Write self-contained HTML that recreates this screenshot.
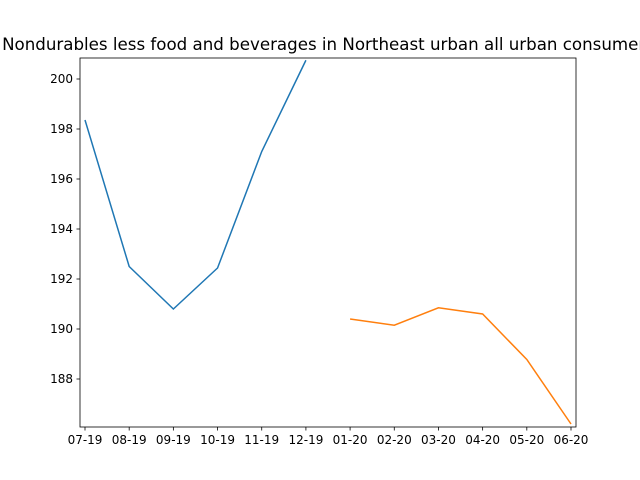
<!DOCTYPE html>
<html><head><meta charset="utf-8"><style>
body{margin:0;background:#fff;overflow:hidden;}
svg{display:block;font-family:"DejaVu Sans","Liberation Sans",sans-serif;}
</style></head><body>
<svg id="chart" width="640" height="480">
<rect width="640" height="480" fill="#fff"/>
<text x="328" y="50" text-anchor="middle" font-size="16.67">Nondurables less food and beverages in Northeast urban all urban consumers</text>
<g id="plot"></g>
</svg>
<script>
const categories=["07-19","08-19","09-19","10-19","11-19","12-19","01-20","02-20","03-20","04-20","05-20","06-20"];
const series2019=[198.36,192.5,190.8,192.44,197.1,200.75];
const series2020=[190.4,190.15,190.85,190.6,188.78,186.2];
const yTicks=[188,190,192,194,196,198,200];
const L=80,R=576,T=58,B=427,yMin=186.08,yMax=200.84;
const x=i=>85+i*(571-85)/(categories.length-1);
const y=v=>B-(v-yMin)/(yMax-yMin)*(B-T);
const g=document.getElementById('plot');const ns='http://www.w3.org/2000/svg';
function mk(t,a){const e=document.createElementNS(ns,t);for(const k in a)e.setAttribute(k,a[k]);g.appendChild(e);return e;}
const clip=mk('clipPath',{id:'c'});const cr=document.createElementNS(ns,'rect');
cr.setAttribute('x',L);cr.setAttribute('y',T);cr.setAttribute('width',R-L);cr.setAttribute('height',B-T);clip.appendChild(cr);
let p1=mk('polyline',{points:series2019.map((v,i)=>x(i)+','+y(v)).join(' '),fill:'none',stroke:'#1f77b4','stroke-width':1.5,'clip-path':'url(#c)'});


let p2=mk('polyline',{points:series2020.map((v,i)=>x(i+6)+','+y(v)).join(' '),fill:'none',stroke:'#ff7f0e','stroke-width':1.5,'clip-path':'url(#c)'});


let fr=mk('rect',{x:L,y:T,width:R-L,height:B-T,fill:'none',stroke:'#000','stroke-width':0.8});


yTicks.forEach(v=>{mk('line',{x1:L-3.5,x2:L,y1:y(v),y2:y(v),stroke:'#000','stroke-width':0.8});
const t=mk('text',{x:L-7,y:y(v)+4,'text-anchor':'end','font-size':'12'});t.textContent=v;

});
categories.forEach((c,i)=>{mk('line',{x1:x(i),x2:x(i),y1:B,y2:B+3.5,stroke:'#000','stroke-width':0.8});
const t=mk('text',{x:x(i),y:B+17,'text-anchor':'middle','font-size':'12'});t.textContent=c;

});
</script>
</body></html>
